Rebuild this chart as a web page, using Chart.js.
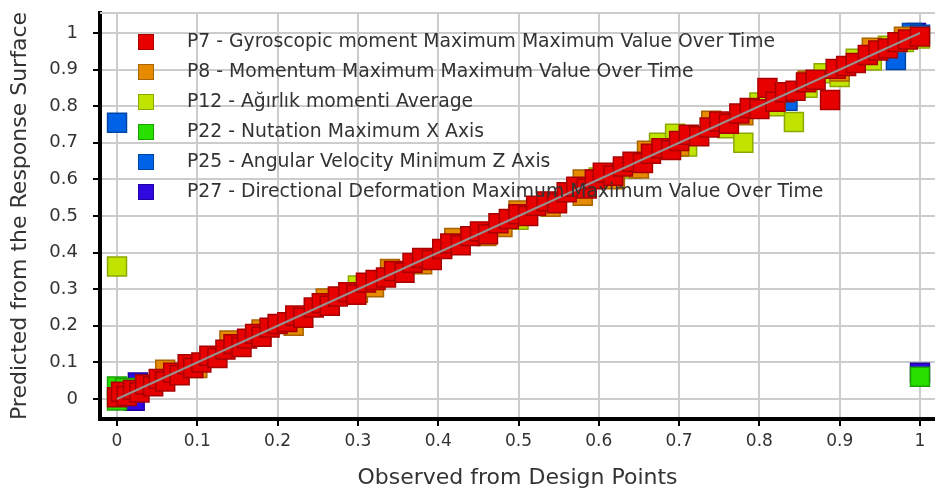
<!DOCTYPE html>
<html>
<head>
<meta charset="utf-8">
<title>Predicted vs Observed</title>
<script src="https://cdn.jsdelivr.net/npm/chart.js@4.4.1/dist/chart.umd.min.js"></script>
<style>
  html, body { margin: 0; padding: 0; background: #fff; overflow: hidden; }
  #chart { display: block; width: 935px; height: 493px; }
</style>
</head>
<body>
<canvas id="chart" width="935" height="493"></canvas>
<script>
// Axis ticks
const tickValues = [0, 0.1, 0.2, 0.3, 0.4, 0.5, 0.6, 0.7, 0.8, 0.9, 1];
const tickLabels = ['0', '0.1', '0.2', '0.3', '0.4', '0.5', '0.6', '0.7', '0.8', '0.9', '1'];

// Series names
const seriesNames = [
  'P7 - Gyroscopic moment Maximum Maximum Value Over Time',
  'P8 - Momentum Maximum Maximum Value Over Time',
  'P12 - Ağırlık momenti Average',
  'P22 - Nutation Maximum X Axis',
  'P25 - Angular Velocity Minimum Z Axis',
  'P27 - Directional Deformation Maximum Maximum Value Over Time'
];

// Observed (x) / predicted (y) pairs per output parameter
const p7Observed = [0.000,0.005,0.012,0.020,0.028,0.035,0.045,0.052,0.060,0.070,0.078,0.088,0.095,0.105,0.115,0.125,0.135,0.145,0.155,0.162,0.172,0.180,0.190,0.200,0.212,0.222,0.232,0.245,0.255,0.265,0.275,0.288,0.298,0.310,0.322,0.335,0.345,0.358,0.368,0.380,0.392,0.405,0.415,0.428,0.440,0.452,0.462,0.475,0.488,0.500,0.512,0.522,0.535,0.548,0.560,0.572,0.585,0.595,0.605,0.618,0.630,0.642,0.655,0.665,0.678,0.690,0.700,0.712,0.725,0.738,0.750,0.762,0.775,0.788,0.800,0.810,0.820,0.832,0.845,0.858,0.870,0.888,0.895,0.908,0.920,0.935,0.948,0.960,0.972,0.985,1.000];
const p7Predicted = [0.005,0.020,0.008,0.025,0.018,0.040,0.035,0.055,0.048,0.072,0.065,0.095,0.085,0.100,0.118,0.112,0.135,0.150,0.142,0.165,0.178,0.170,0.195,0.205,0.210,0.228,0.222,0.250,0.262,0.255,0.280,0.292,0.285,0.318,0.325,0.332,0.350,0.345,0.372,0.385,0.380,0.410,0.425,0.420,0.445,0.458,0.450,0.480,0.492,0.505,0.500,0.528,0.540,0.535,0.565,0.580,0.575,0.600,0.618,0.610,0.635,0.648,0.645,0.670,0.685,0.680,0.705,0.722,0.718,0.742,0.758,0.752,0.780,0.795,0.792,0.850,0.812,0.838,0.842,0.865,0.872,0.817,0.902,0.910,0.918,0.940,0.952,0.958,0.975,0.982,0.990];

const p8Observed = [0.060,0.100,0.140,0.180,0.220,0.260,0.300,0.320,0.340,0.380,0.420,0.460,0.480,0.500,0.540,0.580,0.580,0.620,0.650,0.660,0.700,0.740,0.780,0.820,0.860,0.900,0.940,0.980];
const p8Predicted = [0.080,0.085,0.160,0.190,0.200,0.275,0.290,0.305,0.355,0.368,0.440,0.445,0.470,0.515,0.525,0.600,0.555,0.600,0.630,0.678,0.690,0.760,0.775,0.838,0.870,0.895,0.960,0.990];

const p12Observed = [0.000,0.300,0.500,0.600,0.640,0.675,0.695,0.710,0.740,0.760,0.780,0.800,0.820,0.843,0.860,0.880,0.900,0.920,0.940,0.960,0.980,1.000];
const p12Predicted = [0.362,0.310,0.490,0.605,0.630,0.700,0.725,0.690,0.755,0.740,0.700,0.810,0.800,0.757,0.850,0.890,0.880,0.930,0.925,0.965,0.975,0.985];

const p22Observed = [0.000,0.000,0.010,0.500,1.000];
const p22Predicted = [0.034,-0.004,0.030,0.500,0.061];

const p25Observed = [0.000,0.835,0.970,0.990,1.000];
const p25Predicted = [0.755,0.815,0.926,1.000,0.995];

const p27Observed = [0.026,0.022,1.000,0.995];
const p27Predicted = [0.045,-0.005,0.072,1.000];

// Reference diagonal (predicted = observed)
const diagonalObserved = [0, 1];
const diagonalPredicted = [0, 1];

const fills   = ['#e60000', '#e68a00', '#c0e400', '#28e000', '#0062e6', '#3008e0'];
const borders = ['#a80000', '#a86400', '#8ca800', '#1aa000', '#0046a6', '#2000a0'];

const observed  = [p7Observed, p8Observed, p12Observed, p22Observed, p25Observed, p27Observed];
const predicted = [p7Predicted, p8Predicted, p12Predicted, p22Predicted, p25Predicted, p27Predicted];

function pairs(xs, ys) { return xs.map((x, i) => ({ x: x, y: ys[i] })); }

const datasets = seriesNames.map((name, i) => ({
  type: 'scatter',
  label: name,
  data: pairs(observed[i], predicted[i]),
  pointStyle: 'rect',
  pointRadius: 13.4,
  pointHoverRadius: 13.4,
  pointBorderWidth: 1.5,
  backgroundColor: fills[i],
  borderColor: borders[i],
  order: i + 1
}));

datasets.push({
  type: 'line',
  label: 'diagonal',
  data: pairs(diagonalObserved, diagonalPredicted),
  borderColor: 'rgba(150,150,150,0.95)',
  borderWidth: 2,
  pointRadius: 0,
  fill: false,
  order: 0
});

const FONT = '"DejaVu Sans", Verdana, sans-serif';
const TEXT = '#333333';

// Legend drawn inside the plot, over the markers
const innerLegend = {
  id: 'innerLegend',
  afterDatasetsDraw(chart) {
    const ctx = chart.ctx;
    ctx.save();
    ctx.font = '18.8px ' + FONT;
    ctx.textBaseline = 'middle';
    ctx.textAlign = 'left';
    seriesNames.forEach((name, i) => {
      const cy = 42 + i * 30;
      ctx.fillStyle = fills[i];
      ctx.fillRect(138, cy - 8, 16, 16);
      ctx.strokeStyle = borders[i];
      ctx.lineWidth = 1;
      ctx.strokeRect(138.5, cy - 7.5, 15, 15);
      ctx.fillStyle = TEXT;
      ctx.fillText(name, 187, cy);
    });
    ctx.restore();
  }
};

// Grey frame line along the top of the plot area
const topFrame = {
  id: 'topFrame',
  beforeDatasetsDraw(chart) {
    const { ctx, chartArea } = chart;
    ctx.save();
    ctx.strokeStyle = '#cccccc';
    ctx.lineWidth = 2;
    ctx.beginPath();
    ctx.moveTo(chartArea.left, chartArea.top);
    ctx.lineTo(chartArea.right, chartArea.top);
    ctx.stroke();
    ctx.restore();
  }
};

function setTicks(scale) { scale.ticks = tickValues.map(v => ({ value: v })); }
function labelFor(v) {
  const i = tickValues.findIndex(t => Math.abs(t - v) < 1e-9);
  return i >= 0 ? tickLabels[i] : '';
}
function noPadding(scale) {
  scale.paddingLeft = 0; scale.paddingRight = 0;
  scale.paddingTop = 0; scale.paddingBottom = 0;
}

new Chart(document.getElementById('chart'), {
  data: { datasets: datasets },
  options: {
    responsive: false,
    maintainAspectRatio: false,
    devicePixelRatio: 1,
    animation: false,
    events: [],
    layout: { autoPadding: false, padding: { left: 0, right: 0, top: 13, bottom: 0 } },
    plugins: { legend: { display: false }, tooltip: { enabled: false } },
    scales: {
      x: {
        type: 'linear',
        min: -0.0212,
        max: 1.0187,
        afterBuildTicks: setTicks,
        afterFit(scale) { scale.height = 74; noPadding(scale); },
        grid: { color: '#cccccc', lineWidth: 2, drawTicks: true, tickLength: 7, tickColor: '#000', tickWidth: 2 },
        border: { display: true, color: '#000', width: 4 },
        ticks: { callback: labelFor, font: { family: FONT, size: 17 }, color: TEXT, padding: 5, maxRotation: 0, autoSkip: false },
        title: { display: true, text: 'Observed from Design Points', font: { family: FONT, size: 22 }, color: TEXT, padding: { top: 4, bottom: 2 } }
      },
      y: {
        type: 'linear',
        min: -0.0546,
        max: 1.0546,
        afterBuildTicks: setTicks,
        afterFit(scale) { scale.width = 100; noPadding(scale); },
        grid: { color: '#cccccc', lineWidth: 2, drawTicks: true, tickLength: 7, tickColor: '#000', tickWidth: 2 },
        border: { display: true, color: '#000', width: 4 },
        ticks: { callback: labelFor, font: { family: FONT, size: 18 }, color: TEXT, padding: 15, autoSkip: false },
        title: { display: true, text: 'Predicted from the Response Surface', font: { family: FONT, size: 22 }, color: TEXT, padding: { top: 7, bottom: 0 } }
      }
    }
  },
  plugins: [topFrame, innerLegend]
});
</script>
</body>
</html>
